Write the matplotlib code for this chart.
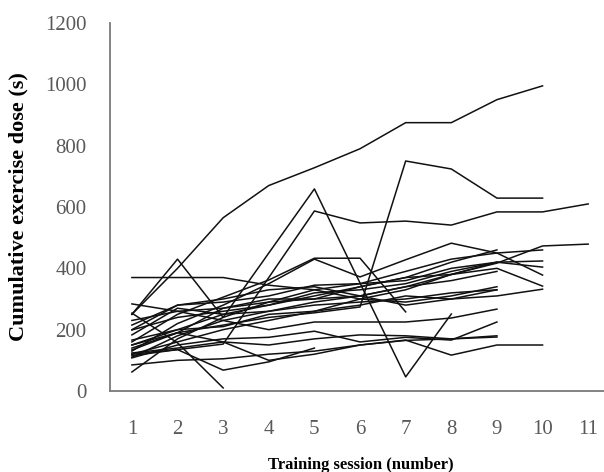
import matplotlib.pyplot as plt

# cumulative exercise dose (s) per participant, one list per participant, sessions 1..n
p01 = [250, 400, 565, 670, 728, 790, 875, 875, 950, 995]
p02 = [250, 430, 240, 450, 659, 352, 46, 251]
p03 = [120, 135, 153, 370, 587, 548, 554, 541, 584, 584, 610]
p04 = [140, 190, 215, 240, 255, 274, 750, 724, 629, 629]
p05 = [370, 370, 370, 345, 330, 300, 330, 380, 420, 424]
p06 = [150, 200, 250, 280, 310, 340, 370, 380, 417, 473, 479]
p07 = [160, 250, 306, 362, 433, 433, 258]
p08 = [130, 220, 280, 350, 430, 372, 428, 482, 450, 378]
p09 = [254, 157, 10]
p10 = [62, 170, 240, 290, 330, 350, 390, 430, 450, 460]
p11 = [200, 280, 290, 310, 345, 350, 360, 400, 420, 404]
p12 = [110, 180, 230, 260, 290, 310, 340, 380, 400, 342]
p13 = [120, 160, 200, 230, 260, 280, 310, 300, 310, 332]
p14 = [284, 260, 230, 200, 225, 225, 225, 238, 267]
p15 = [108, 150, 170, 175, 195, 160, 175, 166, 225]
p16 = [124, 140, 160, 150, 170, 183, 180, 170, 176]
p17 = [115, 135, 68, 95, 140]
p18 = [150, 190, 160, 100, 120, 150, 166, 117, 150, 150]
p19 = [166, 200, 210, 250, 260, 300, 290, 310, 340]
p20 = [183, 270, 250, 260, 280, 290, 300, 320, 330]
p21 = [215, 280, 300, 330, 340, 310, 340, 360, 390]
p22 = [134, 190, 270, 300, 300, 340, 370, 420, 460]
p23 = [199, 240, 260, 280, 320, 330, 350, 390, 420]
p24 = [230, 260, 270, 290, 300, 310, 280, 300, 330]
p25 = [85, 100, 105, 120, 130, 150, 165, 170, 180]

participants = [p01, p02, p03, p04, p05, p06, p07, p08, p09, p10, p11, p12, p13,
                p14, p15, p16, p17, p18, p19, p20, p21, p22, p23, p24, p25]

yticks = [0, 200, 400, 600, 800, 1000, 1200]
xticks = list(range(1, 12))

plt.rcParams['font.family'] = ['Liberation Serif', 'DejaVu Serif']

fig = plt.figure(figsize=(6.04, 4.72), dpi=100, facecolor='white')
ax = fig.add_axes([110 / 604, 81 / 472, 501 / 604, 368 / 472])

for vals in participants:
    sessions = list(range(1, len(vals) + 1))
    ax.plot(sessions, vals, color='#111111', linewidth=1.1)

ax.set_xlim(0.52, 11.5)
ax.set_ylim(0, 1200)
ax.set_xticks(xticks)
ax.set_yticks(yticks)
ax.tick_params(length=0, labelsize=15, labelcolor='#595959')
ax.tick_params(axis='y', pad=17)
ax.tick_params(axis='x', pad=21)

for side in ['top', 'right']:
    ax.spines[side].set_visible(False)
for side in ['left', 'bottom']:
    ax.spines[side].set_color('#7a7a7a')
    ax.spines[side].set_linewidth(1.3)

ax.set_ylabel('Cumulative exercise dose (s)', fontsize=16, fontweight='bold', labelpad=12)
fig.text(361 / 604, 1 - 465 / 472, 'Training session (number)', fontsize=12,
         fontweight='bold', ha='center', va='center')

fig.savefig('out.png', dpi=100)
